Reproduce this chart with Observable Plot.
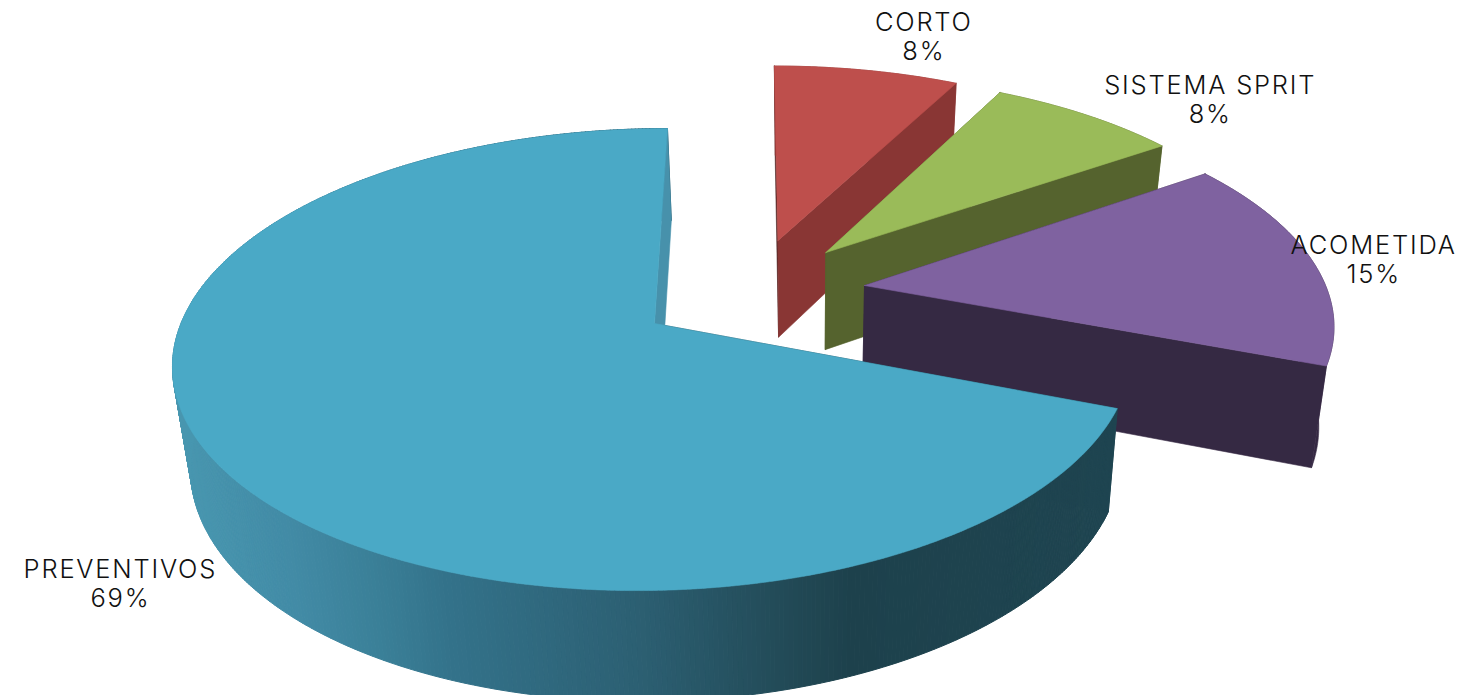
<!DOCTYPE html>
<html><head><meta charset="utf-8">
<style>html,body{margin:0;padding:0;background:#fff}svg{display:block}</style>
<script src="https://cdn.jsdelivr.net/npm/d3@7"></script>
<script src="https://cdn.jsdelivr.net/npm/@observablehq/plot@0.6"></script>
</head><body><script>
// values
const categories = ["CORTO", "SISTEMA SPRIT", "ACOMETIDA", "PREVENTIVOS"];
const shares = [7.6, 7.8, 15.4, 69.2]; // labels show them rounded
const topColors = ["#BE4F4C", "#9ABB59", "#7F62A0", "#4AA9C6"];
const rimColors = ["#893634", "#55632E", "#352943", "#1F4551"];
const startWallColors = ["#4F2422", "#55632E", "#352943", "#1F4551"];
const endWallColors = ["#893634", "#55632E", "#352943", "#4791AB"];
const explodeX = [0.264, 0.37, 0.45, 0];
const explodeY = [-0.39, -0.331, -0.173, 0];
const labelDx = [57, 124, 61.5, -97];
const labelDy = [-34, -16, -1, 119];
const shadeX = [190, 290, 380, 450, 640, 800, 850, 1110];
const shadeColors = ["#4896AF", "#428BA6", "#3A7F97", "#33728A", "#2C5F72", "#214854", "#1D414C", "#1F4551"];

// perspective model of the tilted disc
const view = {cx: 654, cy: 323, sx: 473.5, sy: 225.4, skew: -15, persp: 0.156, depth: 100, shrink: 0.9714, vanishX: 802};
function project(X, Y, low) {
  const w = 1 - view.persp * Y;
  const x = view.cx + (view.sx * X + view.skew * Y) / w;
  const y = view.sy * Y / w;
  return low
    ? {x: view.vanishX + (x - view.vanishX) * view.shrink, y: view.cy + view.shrink * y + view.depth / w}
    : {x, y: view.cy + y};
}
const rad = d => d * Math.PI / 180;
let acc = 0;
const slices = categories.map((name, i) => {
  const a0 = acc; acc += shares[i] * 3.6;
  return {name, pct: Math.round(shares[i]), i, a0, a1: acc, ox: explodeX[i], oy: explodeY[i]};
});
const rim = (s, a, low) => project(s.ox + Math.sin(rad(a)), s.oy - Math.cos(rad(a)), low);
const apex = (s, low) => project(s.ox, s.oy, low);
const arcAngles = s => { const n = Math.ceil((s.a1 - s.a0) / 0.5); return d3.range(n + 1).map(j => s.a0 + (s.a1 - s.a0) * j / n); };

const marks = [];
const poly = (pts, color) => Plot.line([...pts, pts[0]], {x: "x", y: "y", fill: color, stroke: color, strokeWidth: 0.6});
slices.forEach((s, i) => {
  marks.push(poly([rim(s, s.a0), rim(s, s.a0, true), apex(s, true), apex(s)], startWallColors[i]));
  const angles = arcAngles(s);
  if (s.name === "PREVENTIVOS") {
    const segs = [];
    angles.slice(1).forEach((a, j) => {
      const b = angles[j];
      const quad = [rim(s, b), rim(s, a), rim(s, a, true), rim(s, b, true)];
      const shade = d3.mean(quad, d => d.x);
      [...quad, quad[0]].forEach(p => segs.push({...p, seg: j, shade}));
    });
    marks.push(Plot.line(segs, {x: "x", y: "y", z: "seg", fill: "shade", stroke: "shade", strokeWidth: 1}));
  } else {
    const pts = [...angles.map(a => rim(s, a)), ...angles.slice().reverse().map(a => rim(s, a, true))];
    marks.push(poly(pts, rimColors[i]));
  }
  marks.push(poly([rim(s, s.a1), rim(s, s.a1, true), apex(s, true), apex(s)], endWallColors[i]));
  marks.push(poly([apex(s), ...angles.map(a => rim(s, a))], topColors[i]));
});
slices.forEach((s, i) => {
  const mid = rim(s, (s.a0 + s.a1) / 2);
  marks.push(Plot.text([{...mid, label: `${s.name}\n${s.pct}%`}], {
    x: "x", y: "y", text: "label", dx: labelDx[i], dy: labelDy[i],
    fontSize: 25.5, fontWeight: 300, lineHeight: 1.14, fill: "#111", textAnchor: "middle", lineAnchor: "middle"
  }));
});

document.body.append(Plot.plot({
  width: 1479, height: 695, margin: 0,
  style: {fontFamily: "Inter, Lato, sans-serif", background: "#fff", overflow: "hidden", letterSpacing: "1.8px"},
  x: {domain: [0, 1479], range: [0, 1479], axis: null},
  y: {domain: [0, 695], range: [0, 695], axis: null},
  color: {type: "linear", domain: shadeX, range: shadeColors, interpolate: "rgb"},
  marks
}));
</script></body></html>
